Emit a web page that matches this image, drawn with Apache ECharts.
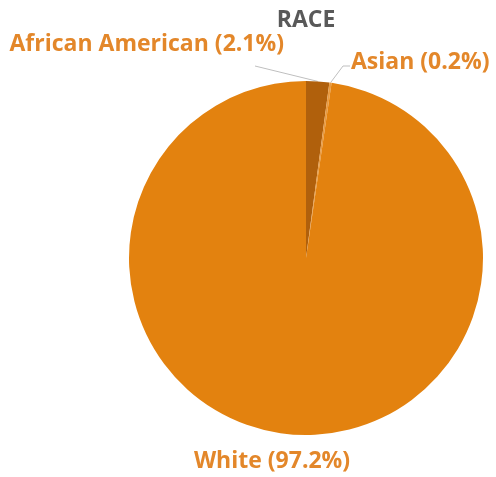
<!DOCTYPE html>
<html><head><meta charset="utf-8">
<script src="https://cdn.jsdelivr.net/npm/echarts@6/dist/echarts.min.js"></script>
<style>html,body{margin:0;padding:0;background:#fff}#c{width:496px;height:477px}</style>
</head><body><div id="c"></div>
<script>
const titleText = 'RACE';
const categories = ['African American', 'Asian', 'White'];
const values = [2.1, 0.2, 97.2];
const colors = ['#B0600C', '#E99A40', '#E3820F'];

const chart = echarts.init(document.getElementById('c'));
const labelPos = [
  {x: 284, y: 44, align: 'right'},
  {x: 351, y: 62, align: 'left'},
  {x: 272, y: 461, align: 'center'}
];
chart.setOption({
  animation: false,
  title: {text: titleText, left: 301, top: 4, textAlign: 'center',
    textStyle: {fontFamily: 'Open Sans', fontWeight: 'bold', fontSize: 23, color: '#595959'}},
  series: [{
    type: 'pie',
    center: [306, 258],
    radius: [0, 177],
    startAngle: 90,
    clockwise: true,
    data: categories.map((c, i) => ({name: c, value: values[i], itemStyle: {color: colors[i]}})),
    label: {
      formatter: p => p.name + ' (' + p.value.toFixed(1) + '%)',
      overflow: 'none', width: 400,
      fontFamily: 'Open Sans', fontWeight: 'bold', fontSize: 23, color: '#E3872A'
    },
    labelLine: {show: true, lineStyle: {color: '#BFBFBF', width: 1}},
    labelLayout: function (params) {
      const i = params.dataIndex;
      const lp = labelPos[i];
      const pts = params.labelLinePoints;
      const res = {x: lp.x, y: lp.y, align: lp.align, verticalAlign: 'middle'};
      if (pts) {
        const start = pts[0];
        if (i === 0) res.labelLinePoints = [start, [255, 66], [255, 66]];
        else if (i === 1) res.labelLinePoints = [start, [343, 66], [350, 66]];
        else res.labelLinePoints = [start, start, start];
      }
      return res;
    }
  }]
});
</script></body></html>
